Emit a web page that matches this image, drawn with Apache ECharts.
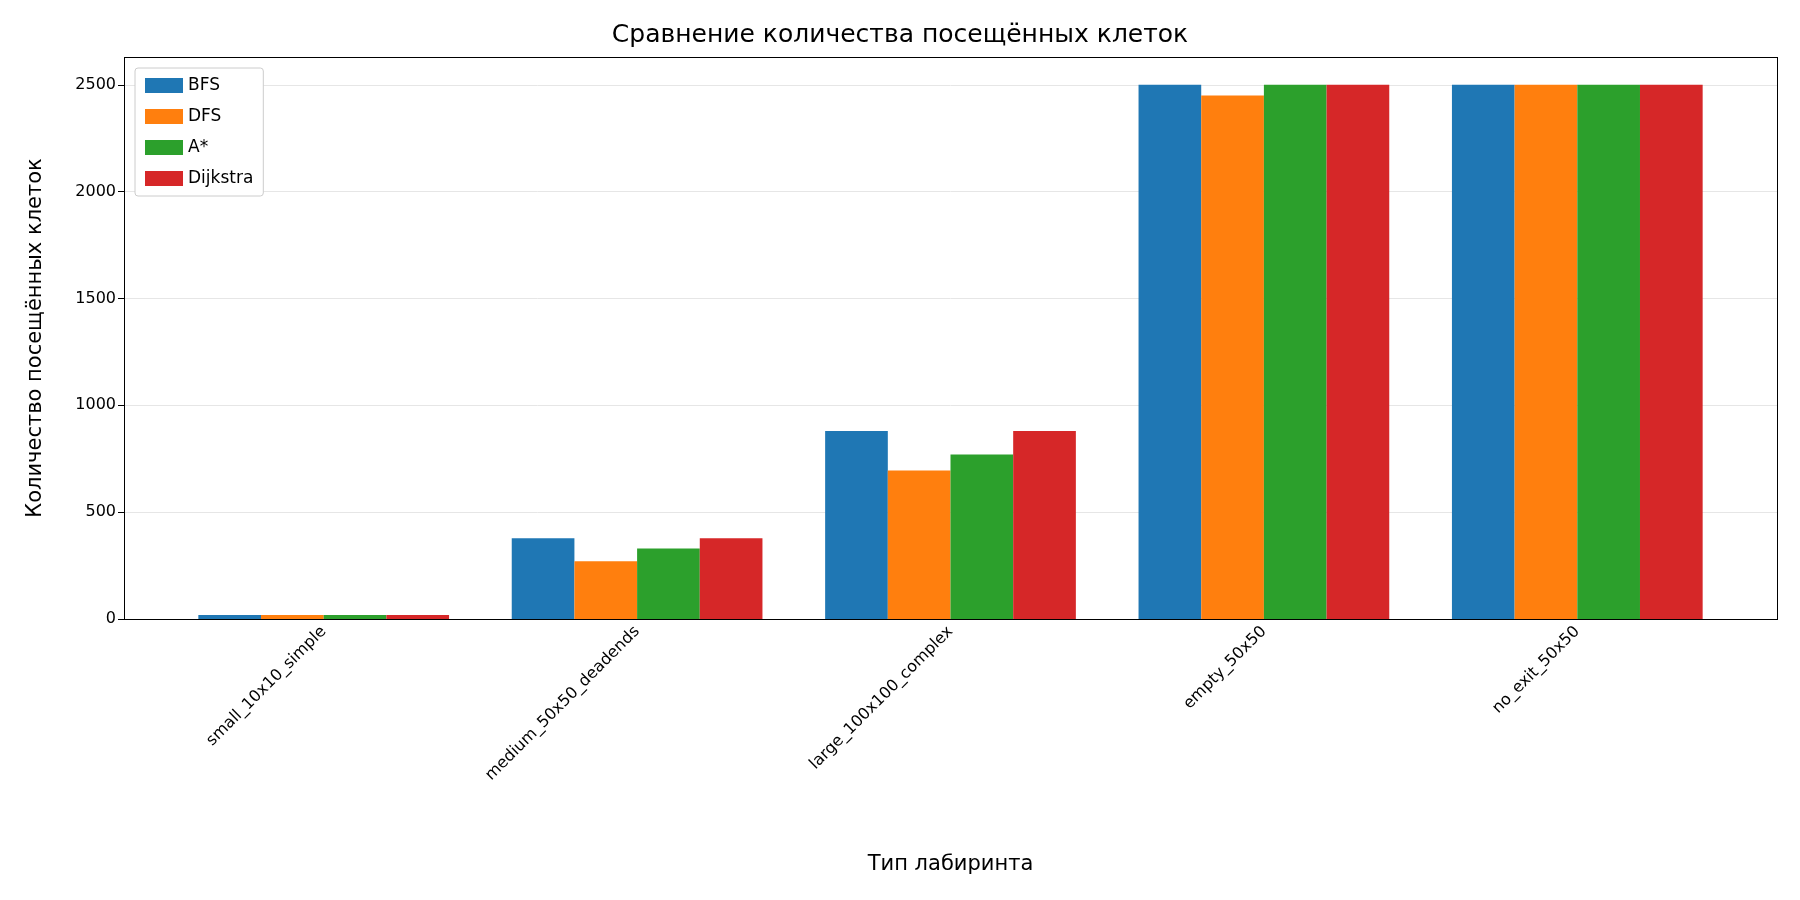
<!DOCTYPE html><html><head><meta charset="utf-8"><script src="https://cdn.jsdelivr.net/npm/echarts@6/dist/echarts.min.js"></script>
<style>body{margin:0}#c{width:1800px;height:900px}</style></head><body><div id="c"></div><script>
const categories=['small_10x10_simple','medium_50x50_deadends','large_100x100_complex','empty_50x50','no_exit_50x50'];
const bfs=[19,378,880,2500,2500];
const dfs=[19,270,695,2450,2500];
const astar=[19,330,770,2500,2500];
const dijkstra=[19,378,880,2500,2500];
const names=['BFS','DFS','A*','Dijkstra'];
const colors=['#1f77b4','#ff7f0e','#2ca02c','#d62728'];
const yMax=2630;
const f='DejaVu Sans';
const chart=echarts.init(document.getElementById('c'));
chart.setOption({
 animation:false,
 textStyle:{fontFamily:f},
 title:{text:'Сравнение количества посещённых клеток',left:'center',top:18,textStyle:{fontFamily:f,fontSize:25,fontWeight:'normal',color:'#000'}},
 legend:{show:true,orient:'vertical',left:135,top:68,itemWidth:38,itemHeight:15,itemGap:14,icon:'rect',
  backgroundColor:'#fff',borderColor:'#ccc',borderWidth:1,borderRadius:3,padding:[9,10],z:10,
  textStyle:{fontFamily:f,fontSize:17,color:'#000'}},
 grid:[{left:124,right:23,top:57,bottom:281},{left:167,right:66,top:57,bottom:281}],
 xAxis:[{type:'value',gridIndex:0,show:false,min:0,max:1},
  {type:'category',gridIndex:1,data:categories,
  axisLine:{show:false},axisTick:{alignWithLabel:true,length:6,lineStyle:{color:'#000'}},
  axisLabel:{rotate:45,fontSize:16,color:'#000',fontFamily:f,margin:10},
  name:'Тип лабиринта',nameLocation:'middle',nameGap:235,nameTextStyle:{fontSize:21,color:'#000',fontFamily:f}}],
 yAxis:[{type:'value',gridIndex:0,min:0,max:yMax,interval:500,
  axisLine:{show:false},axisTick:{show:true,length:6,lineStyle:{color:'#000'}},
  axisLabel:{fontSize:16,color:'#000',fontFamily:f,showMaxLabel:false,formatter:v=>String(v)},
  splitLine:{lineStyle:{color:'#e6e6e6'}},
  name:'Количество посещённых клеток',nameLocation:'middle',nameGap:78,nameTextStyle:{fontSize:21,color:'#000',fontFamily:f}},
  {type:'value',gridIndex:1,min:0,max:yMax,show:false,splitLine:{show:false}}],
 series:[bfs,dfs,astar,dijkstra].map((d,i)=>({name:names[i],type:'bar',xAxisIndex:1,yAxisIndex:1,data:d,itemStyle:{color:colors[i]},barGap:'0%',barCategoryGap:'20%'}))
});
</script>
<div style="position:absolute;left:124px;top:57px;width:1654px;height:563px;border:1px solid #000;box-sizing:border-box;pointer-events:none"></div>
</body></html>
